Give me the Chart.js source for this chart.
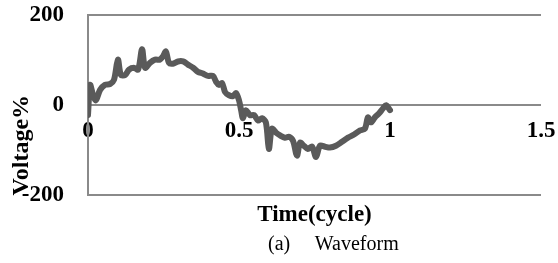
<!DOCTYPE html>
<html>
<head>
<meta charset="utf-8">
<script src="https://cdn.jsdelivr.net/npm/chart.js@4"></script>
<style>
  html, body { margin: 0; padding: 0; background: #ffffff; }
  #wrap { position: relative; width: 558px; height: 263px; }
  #caption {
    position: absolute; left: 268px; top: 232px;
    font: 20px "Liberation Serif", "Times New Roman", serif;
    line-height: 23px; white-space: pre; color: #000000;
  }
</style>
</head>
<body>
<div id="wrap">
  <canvas id="graficoOnda" width="558" height="263"></canvas>
  <div id="caption">(a)     Waveform</div>
</div>
<script>
// time in cycles
const tempo = [
  0, 0.007, 0.017, 0.026, 0.04, 0.056, 0.073, 0.086, 0.099, 0.109,
  0.123, 0.136, 0.152, 0.166, 0.179, 0.189, 0.205, 0.222, 0.238, 0.248,
  0.258, 0.268, 0.281, 0.298, 0.315, 0.331, 0.348, 0.364, 0.381, 0.397,
  0.414, 0.424, 0.434, 0.444, 0.454, 0.467, 0.48, 0.49, 0.5, 0.507,
  0.513, 0.523, 0.536, 0.55, 0.563, 0.576, 0.589, 0.599, 0.609, 0.623,
  0.636, 0.652, 0.666, 0.679, 0.692, 0.702, 0.715, 0.728, 0.742, 0.755,
  0.768, 0.785, 0.801, 0.821, 0.841, 0.861, 0.881, 0.901, 0.917, 0.927,
  0.937, 0.95, 0.964, 0.977, 0.987, 1.0
];

// voltage in %
const tensao = [
  -22, 45, 22, 11, 34, 45, 47, 56, 101, 67,
  67, 79, 83, 79, 124, 83, 94, 101, 101, 108,
  119, 94, 92, 97, 97, 90, 83, 74, 70, 65,
  65, 52, 45, 49, 29, 22, 20, 27, 11, -11,
  -29, -11, -22, -22, -34, -29, -38, -97, -52, -61,
  -67, -72, -70, -79, -112, -83, -90, -97, -92, -115,
  -90, -92, -94, -90, -81, -72, -65, -56, -52, -27,
  -38, -27, -18, -7, 0, -11
];

const ticksX = [0, 0.5, 1, 1.5];
const ticksY = [-200, 0, 200];

const fonteSerif = "\"Liberation Serif\", \"Times New Roman\", serif";
const corGrade = "#8a8a8a";

function gerarGraficoOnda() {
  const ctx = document.getElementById("graficoOnda").getContext("2d");
  new Chart(ctx, {
    type: "line",
    data: {
      datasets: [{
        data: tempo.map((t, i) => ({ x: t, y: tensao[i] })),
        borderColor: "#5a5a5a",
        borderWidth: 6,
        pointRadius: 0,
        tension: 0.3,
        borderJoinStyle: "round",
        borderCapStyle: "round"
      }]
    },
    options: {
      responsive: false,
      animation: false,
      layout: {
        padding: { left: 0, top: 15, right: 17, bottom: 34 }
      },
      plugins: {
        legend: { display: false },
        tooltip: { enabled: false },
        title: {
          display: true,
          text: "Time(cycle)",
          position: "bottom",
          fullSize: false,
          color: "#000000",
          padding: { top: 6, bottom: 0 },
          font: { family: fonteSerif, size: 23, weight: "bold" }
        }
      },
      scales: {
        x: {
          type: "linear",
          min: ticksX[0],
          max: ticksX[ticksX.length - 1],
          position: { y: 0 },
          afterBuildTicks: scale => { scale.ticks = ticksX.map(v => ({ value: v })); },
          afterFit: scale => { scale.height = 0; },
          ticks: {
            padding: 0,
            color: "#000000",
            callback: v => String(v),
            font: { family: fonteSerif, size: 23, weight: "bold" }
          },
          grid: { display: false, drawTicks: true, tickLength: 12 },
          border: { display: false }
        },
        y: {
          min: ticksY[0],
          max: ticksY[ticksY.length - 1],
          afterBuildTicks: scale => { scale.ticks = ticksY.map(v => ({ value: v })); },
          afterFit: scale => { scale.width = 88; },
          ticks: {
            padding: 0,
            color: "#000000",
            font: { family: fonteSerif, size: 23, weight: "bold" }
          },
          grid: { color: corGrade, lineWidth: 2, drawTicks: true, tickLength: 24, tickColor: "rgba(0,0,0,0)" },
          border: { display: true, color: corGrade, width: 2 },
          title: {
            display: true,
            text: "Voltage%",
            align: "start",
            color: "#000000",
            padding: { top: 7, bottom: 0 },
            font: { family: fonteSerif, size: 24, weight: "bold" }
          }
        }
      }
    }
  });
}

gerarGraficoOnda();
</script>
</body>
</html>
